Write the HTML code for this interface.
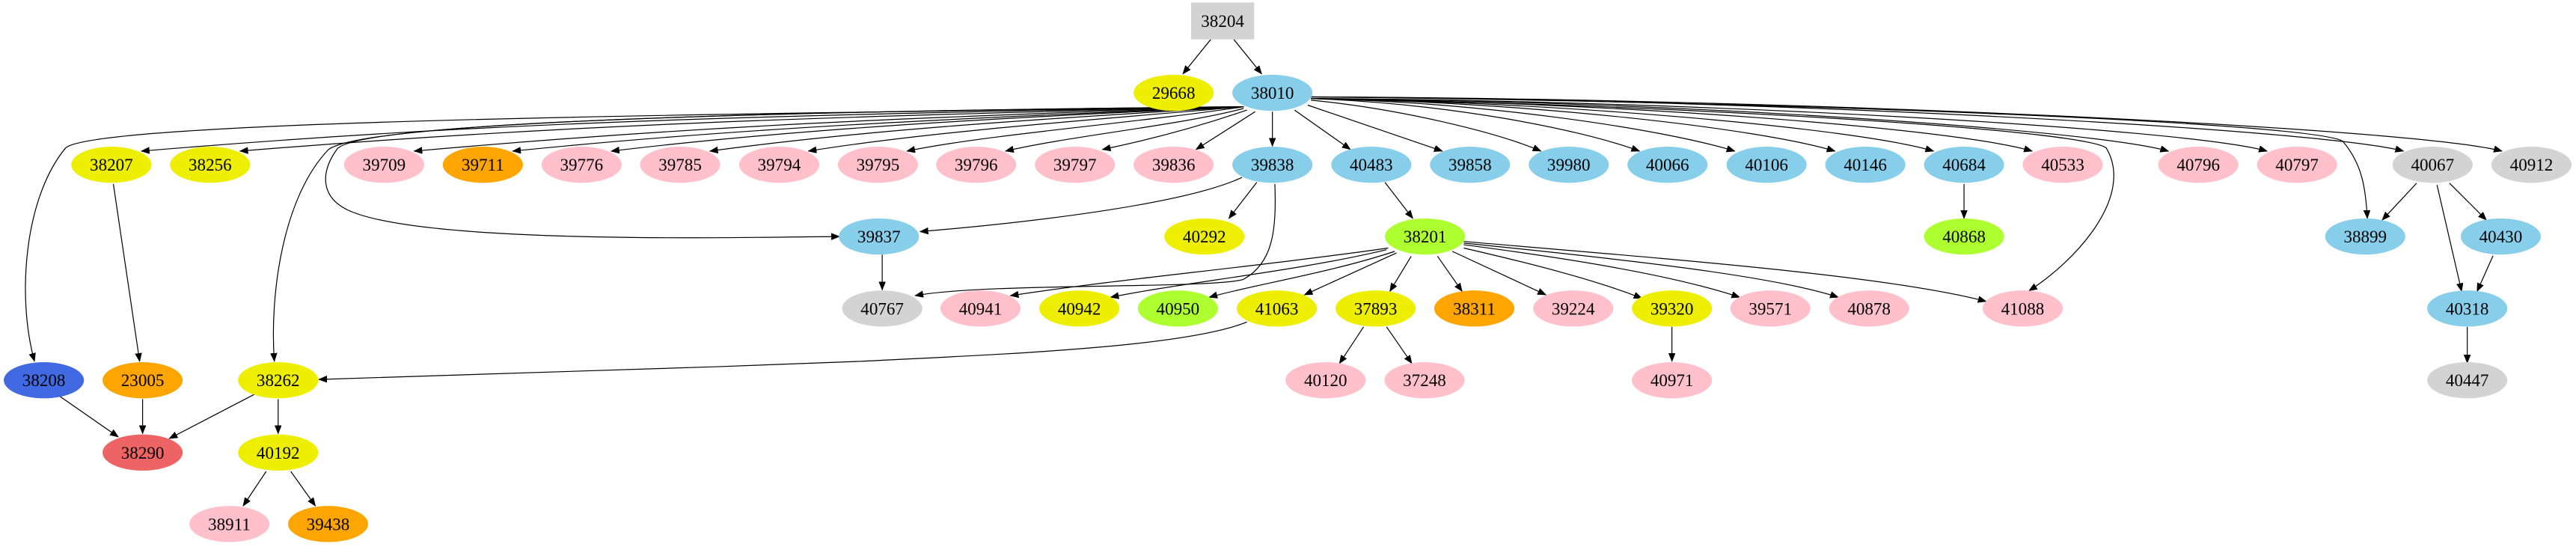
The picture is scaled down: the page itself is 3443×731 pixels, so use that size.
<!DOCTYPE html>
<html><head><meta charset="utf-8"><style>
html,body{margin:0;padding:0;background:#fff;}
svg{display:block;}
text{font-family:"Liberation Serif",serif;font-size:10.5px;text-anchor:middle;dominant-baseline:central;fill:#000;}
path,line{fill:none;stroke:#000;stroke-width:0.55;}
</style></head><body>
<svg width="3443" height="731" viewBox="0 0 1568 333" preserveAspectRatio="none" xmlns="http://www.w3.org/2000/svg">
<defs>
<marker id="a" markerUnits="userSpaceOnUse" markerWidth="8" markerHeight="8" refX="5" refY="2" orient="auto">
<path d="M0,0 L5,2 L0,4 Z" style="fill:#000;stroke:#000;stroke-width:0.3"/>
</marker>
</defs>
<g marker-end="url(#a)">
<line x1="737" y1="24" x2="720" y2="45"/>
<line x1="751" y1="24" x2="768" y2="45"/>
<!-- 38010 fan left -->
<path d="M757,65 C470,70 300,74 86,92"/>
<path d="M757,65 C500,71 340,76 146,92"/>
<path d="M757,65 C560,71 420,77 252,92"/>
<path d="M757,65 C580,72 450,78 312,92"/>
<path d="M757,65 C600,72 480,79 372,92"/>
<path d="M757,65 C620,73 520,80 432,92"/>
<path d="M757,65 C650,74 560,81 492,92"/>
<path d="M757,65 C690,75 600,82 552,92"/>
<path d="M757,66 C720,76 650,83 612,92"/>
<path d="M759,67 C730,77 700,85 671,91"/>
<path d="M764,68 L728,91"/>
<line x1="774.5" y1="68" x2="774.5" y2="89"/>
<!-- 38010 fan right -->
<line x1="788" y1="67" x2="822" y2="91"/>
<line x1="796" y1="64" x2="878" y2="92"/>
<path d="M798,61 C850,66 910,80 938,92"/>
<path d="M798,60 C880,63 960,78 998,92"/>
<path d="M798,60 C900,62 1010,78 1056,92"/>
<path d="M798,60 C930,62 1070,78 1117,92"/>
<path d="M798,60 C950,62 1130,78 1177,92"/>
<path d="M798,60 C980,62 1190,78 1237,92"/>
<path d="M798,60 C1000,61 1270,78 1320,92"/>
<path d="M798,60 C1030,61 1330,78 1380,92"/>
<path d="M798,59 C1060,60 1410,78 1463,92"/>
<path d="M798,59 C1100,60 1470,78 1523,92"/>
<!-- special 38010 edges -->
<path d="M757,65 C500,69 60,72 40,90 C15,120 10,180 21,220"/>
<path d="M757,65 C420,68 220,76 200,91 C172,120 164,180 167,220"/>
<path d="M757,65 C420,68 215,76 205,91 C195,105 195,120 212,128 C260,150 470,144 511,144"/>
<path d="M798,60 C1000,63 1265,78 1282,90 C1300,120 1262,160 1235,177"/>
<path d="M798,59 C1100,62 1410,75 1426,86 C1438,100 1440,115 1441,133"/>
<!-- left tree -->
<line x1="69" y1="112" x2="85" y2="220"/>
<line x1="36" y1="241" x2="72" y2="266"/>
<line x1="86.8" y1="243" x2="86.8" y2="264"/>
<line x1="155" y1="240" x2="103" y2="267"/>
<line x1="169.3" y1="243" x2="169.3" y2="264"/>
<line x1="162" y1="287" x2="148" y2="308"/>
<line x1="177" y1="287" x2="192" y2="308"/>
<!-- 39838 -->
<line x1="765" y1="111" x2="748" y2="133"/>
<path d="M756,108 C720,125 620,136 560,141"/>
<path d="M776,112 C777,140 775,160 757,170 C740,176 600,172 557,180"/>
<line x1="843" y1="111" x2="860" y2="133"/>
<line x1="1195.5" y1="112" x2="1195.5" y2="133"/>
<line x1="537" y1="155" x2="537" y2="176.5"/>
<!-- 38201 children -->
<path d="M845,151 C760,163 680,170 615,180"/>
<path d="M844,152 C790,165 720,172 676,181"/>
<path d="M849,153 C810,166 760,174 736,181"/>
<line x1="850" y1="154" x2="794" y2="179.5"/>
<line x1="859" y1="156" x2="846" y2="177.4"/>
<line x1="875" y1="156" x2="890" y2="177.4"/>
<line x1="884" y1="153" x2="941" y2="179.5"/>
<path d="M891,151 C930,160 970,170 999.5,181.6"/>
<path d="M891,149 C960,158 1020,168 1059,181"/>
<path d="M891,148 C990,158 1080,168 1119,181"/>
<path d="M891,147 C1020,158 1150,168 1209,183.5"/>
<path d="M759,196 C720,212 600,216 523,220 C400,225 250,229 194,231"/>
<line x1="830" y1="199" x2="815.3" y2="221.3"/>
<line x1="844" y1="199" x2="859.4" y2="221.3"/>
<line x1="1017.7" y1="199" x2="1017.7" y2="220"/>
<!-- right -->
<line x1="1471" y1="111.5" x2="1450" y2="134"/>
<line x1="1491" y1="111.5" x2="1513.5" y2="134"/>
<line x1="1483.4" y1="112.6" x2="1498.4" y2="177.4"/>
<line x1="1517.5" y1="155.7" x2="1507.8" y2="177.4"/>
<line x1="1501.8" y1="199" x2="1501.8" y2="221"/>
</g>
<rect x="725" y="1.5" width="38.4" height="22.5" fill="#d3d3d3"/>
<text x="744.2" y="12.7">38204</text>
<g>
<ellipse cx="714.4" cy="56.5" rx="24.4" ry="11" fill="#eeee00"/><text x="714.4" y="56.5">29668</text>
<ellipse cx="774.5" cy="56.5" rx="24.4" ry="11" fill="#87ceeb"/><text x="774.5" y="56.5">38010</text>

<ellipse cx="67.8" cy="100.3" rx="24.4" ry="11" fill="#eeee00"/><text x="67.8" y="100.3">38207</text>
<ellipse cx="127.9" cy="100.3" rx="24.4" ry="11" fill="#eeee00"/><text x="127.9" y="100.3">38256</text>
<ellipse cx="233.8" cy="100.3" rx="24.4" ry="11" fill="#ffc0cb"/><text x="233.8" y="100.3">39709</text>
<ellipse cx="293.9" cy="100.3" rx="24.4" ry="11" fill="#ffa500"/><text x="293.9" y="100.3">39711</text>
<ellipse cx="354" cy="100.3" rx="24.4" ry="11" fill="#ffc0cb"/><text x="354" y="100.3">39776</text>
<ellipse cx="414" cy="100.3" rx="24.4" ry="11" fill="#ffc0cb"/><text x="414" y="100.3">39785</text>
<ellipse cx="474.3" cy="100.3" rx="24.4" ry="11" fill="#ffc0cb"/><text x="474.3" y="100.3">39794</text>
<ellipse cx="534.4" cy="100.3" rx="24.4" ry="11" fill="#ffc0cb"/><text x="534.4" y="100.3">39795</text>
<ellipse cx="594.2" cy="100.3" rx="24.4" ry="11" fill="#ffc0cb"/><text x="594.2" y="100.3">39796</text>
<ellipse cx="654.3" cy="100.3" rx="24.4" ry="11" fill="#ffc0cb"/><text x="654.3" y="100.3">39797</text>
<ellipse cx="714.4" cy="100.3" rx="24.4" ry="11" fill="#ffc0cb"/><text x="714.4" y="100.3">39836</text>
<ellipse cx="774.5" cy="100.3" rx="24.4" ry="11" fill="#87ceeb"/><text x="774.5" y="100.3">39838</text>
<ellipse cx="834.7" cy="100.3" rx="24.4" ry="11" fill="#87ceeb"/><text x="834.7" y="100.3">40483</text>
<ellipse cx="894.8" cy="100.3" rx="24.4" ry="11" fill="#87ceeb"/><text x="894.8" y="100.3">39858</text>
<ellipse cx="954.9" cy="100.3" rx="24.4" ry="11" fill="#87ceeb"/><text x="954.9" y="100.3">39980</text>
<ellipse cx="1015" cy="100.3" rx="24.4" ry="11" fill="#87ceeb"/><text x="1015" y="100.3">40066</text>
<ellipse cx="1075.3" cy="100.3" rx="24.4" ry="11" fill="#87ceeb"/><text x="1075.3" y="100.3">40106</text>
<ellipse cx="1135.4" cy="100.3" rx="24.4" ry="11" fill="#87ceeb"/><text x="1135.4" y="100.3">40146</text>
<ellipse cx="1195.5" cy="100.3" rx="24.4" ry="11" fill="#87ceeb"/><text x="1195.5" y="100.3">40684</text>
<ellipse cx="1255.6" cy="100.3" rx="24.4" ry="11" fill="#ffc0cb"/><text x="1255.6" y="100.3">40533</text>
<ellipse cx="1338.1" cy="100.3" rx="24.4" ry="11" fill="#ffc0cb"/><text x="1338.1" y="100.3">40796</text>
<ellipse cx="1398.2" cy="100.3" rx="24.4" ry="11" fill="#ffc0cb"/><text x="1398.2" y="100.3">40797</text>
<ellipse cx="1480.7" cy="100.3" rx="24.4" ry="11" fill="#d3d3d3"/><text x="1480.7" y="100.3">40067</text>
<ellipse cx="1540.9" cy="100.3" rx="24.4" ry="11" fill="#d3d3d3"/><text x="1540.9" y="100.3">40912</text>

<ellipse cx="535" cy="144" rx="24.4" ry="11" fill="#87ceeb"/><text x="535" y="144">39837</text>
<ellipse cx="733.1" cy="144" rx="24.4" ry="11" fill="#eeee00"/><text x="733.1" y="144">40292</text>
<ellipse cx="867.4" cy="144" rx="24.4" ry="11" fill="#adff2f"/><text x="867.4" y="144">38201</text>
<ellipse cx="1195.5" cy="144" rx="24.4" ry="11" fill="#adff2f"/><text x="1195.5" y="144">40868</text>
<ellipse cx="1439.7" cy="144" rx="24.4" ry="11" fill="#87ceeb"/><text x="1439.7" y="144">38899</text>
<ellipse cx="1522.2" cy="144" rx="24.4" ry="11" fill="#87ceeb"/><text x="1522.2" y="144">40430</text>

<ellipse cx="537" cy="187.8" rx="24.4" ry="11" fill="#d3d3d3"/><text x="537" y="187.8">40767</text>
<ellipse cx="596.8" cy="187.8" rx="24.4" ry="11" fill="#ffc0cb"/><text x="596.8" y="187.8">40941</text>
<ellipse cx="657" cy="187.8" rx="24.4" ry="11" fill="#eeee00"/><text x="657" y="187.8">40942</text>
<ellipse cx="717" cy="187.8" rx="24.4" ry="11" fill="#adff2f"/><text x="717" y="187.8">40950</text>
<ellipse cx="777.2" cy="187.8" rx="24.4" ry="11" fill="#eeee00"/><text x="777.2" y="187.8">41063</text>
<ellipse cx="837.3" cy="187.8" rx="24.4" ry="11" fill="#eeee00"/><text x="837.3" y="187.8">37893</text>
<ellipse cx="897.4" cy="187.8" rx="24.4" ry="11" fill="#ffa500"/><text x="897.4" y="187.8">38311</text>
<ellipse cx="957.6" cy="187.8" rx="24.4" ry="11" fill="#ffc0cb"/><text x="957.6" y="187.8">39224</text>
<ellipse cx="1017.7" cy="187.8" rx="24.4" ry="11" fill="#eeee00"/><text x="1017.7" y="187.8">39320</text>
<ellipse cx="1077.6" cy="187.8" rx="24.4" ry="11" fill="#ffc0cb"/><text x="1077.6" y="187.8">39571</text>
<ellipse cx="1137.7" cy="187.8" rx="24.4" ry="11" fill="#ffc0cb"/><text x="1137.7" y="187.8">40878</text>
<ellipse cx="1231.2" cy="187.8" rx="24.4" ry="11" fill="#ffc0cb"/><text x="1231.2" y="187.8">41088</text>
<ellipse cx="1501.8" cy="187.8" rx="24.4" ry="11" fill="#87ceeb"/><text x="1501.8" y="187.8">40318</text>

<ellipse cx="26.7" cy="231.5" rx="24.4" ry="11" fill="#4169e1"/><text x="26.7" y="231.5">38208</text>
<ellipse cx="86.8" cy="231.5" rx="24.4" ry="11" fill="#ffa500"/><text x="86.8" y="231.5">23005</text>
<ellipse cx="169.3" cy="231.5" rx="24.4" ry="11" fill="#eeee00"/><text x="169.3" y="231.5">38262</text>
<ellipse cx="806.9" cy="231.5" rx="24.4" ry="11" fill="#ffc0cb"/><text x="806.9" y="231.5">40120</text>
<ellipse cx="867.1" cy="231.5" rx="24.4" ry="11" fill="#ffc0cb"/><text x="867.1" y="231.5">37248</text>
<ellipse cx="1017.7" cy="231.5" rx="24.4" ry="11" fill="#ffc0cb"/><text x="1017.7" y="231.5">40971</text>
<ellipse cx="1501.8" cy="231.5" rx="24.4" ry="11" fill="#d3d3d3"/><text x="1501.8" y="231.5">40447</text>

<ellipse cx="86.8" cy="275.5" rx="24.4" ry="11" fill="#ee6363"/><text x="86.8" y="275.5">38290</text>
<ellipse cx="169.3" cy="275.5" rx="24.4" ry="11" fill="#eeee00"/><text x="169.3" y="275.5">40192</text>

<ellipse cx="139.6" cy="319" rx="24.4" ry="11" fill="#ffc0cb"/><text x="139.6" y="319">38911</text>
<ellipse cx="199.7" cy="319" rx="24.4" ry="11" fill="#ffa500"/><text x="199.7" y="319">39438</text>
</g>
</svg>
</body></html>
